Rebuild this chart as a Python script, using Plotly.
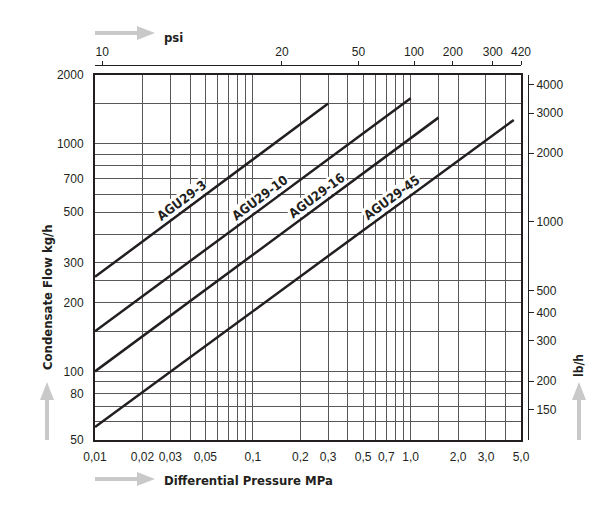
import math

import plotly.graph_objects as go

INK = "#231f20"
GRID = "#5a5757"
ARROW = "#c9c9c9"
NARROW = "Liberation Sans Narrow, Liberation Sans, sans-serif"
BOLD = "DejaVu Sans Condensed, DejaVu Sans, sans-serif"

# размеры и рамка графика в пикселях
W, H = 608, 530
L, R, T, B = 95, 521, 75, 440
PAPER_R, PAPER_T = 528, 65

X_MIN, X_MAX = 0.01, 5.0
Y_MIN, Y_MAX = 50, 2000
LB_PER_KG = 2.20462

# данные линий (МПа -> кг/ч)
SERIES = ["AGU29-3", "AGU29-10", "AGU29-16", "AGU29-45"]
P_START = [0.01, 0.01, 0.01, 0.01]
P_END = [0.3, 1.0, 1.5, 4.5]
FLOW_START = [260, 150, 100, 57]
FLOW_END = [1500, 1580, 1300, 1270]
LABEL_AT = [0.0385, 0.121, 0.276, 0.826]  # где по оси X стоит подпись линии

X_GRID = [0.01, 0.02, 0.03, 0.04, 0.05, 0.06, 0.07, 0.08, 0.09,
          0.1, 0.2, 0.3, 0.4, 0.5, 0.6, 0.7, 0.8, 0.9,
          1.0, 1.5, 2.0, 3.0, 4.0, 5.0]
X_LABELS = {0.01: "0,01", 0.02: "0,02", 0.03: "0,03", 0.05: "0,05", 0.1: "0,1",
            0.2: "0,2", 0.3: "0,3", 0.5: "0,5", 0.7: "0,7", 1.0: "1,0",
            2.0: "2,0", 3.0: "3,0", 5.0: "5,0"}
Y_GRID = [50, 60, 70, 80, 90, 100, 150, 200, 250, 300, 400, 500, 600, 700,
          800, 900, 1000, 1500, 2000]
Y_LABELS = [50, 80, 100, 200, 300, 500, 700, 1000, 2000]
LB_TICKS = [150, 200, 300, 400, 500, 1000, 2000, 3000, 4000]
PSI_LABELS = ["10", "20", "50", "100", "200", "300", "420"]
PSI_AT_MPA = [0.0111, 0.153, 0.467, 1.05, 1.85, 3.31, 5.0]


def to_paper(px, py):
    return (px - L) / (PAPER_R - L), (B - py) / (B - PAPER_T)


def arrow_path(x0, y0, x1, y1, shaft=4.0, head_len=18.0, head_w=14.0):
    d = math.hypot(x1 - x0, y1 - y0)
    ux, uy = (x1 - x0) / d, (y1 - y0) / d
    nx, ny = -uy, ux
    neck = (x1 - ux * head_len, y1 - uy * head_len)
    pts = [
        (x0 + nx * shaft / 2, y0 + ny * shaft / 2),
        (neck[0] + nx * shaft / 2, neck[1] + ny * shaft / 2),
        (neck[0] + nx * head_w / 2, neck[1] + ny * head_w / 2),
        (x1, y1),
        (neck[0] - nx * head_w / 2, neck[1] - ny * head_w / 2),
        (neck[0] - nx * shaft / 2, neck[1] - ny * shaft / 2),
        (x0 - nx * shaft / 2, y0 - ny * shaft / 2),
    ]
    pp = [to_paper(x, y) for x, y in pts]
    return "M " + " L ".join(f"{x:.5f},{y:.5f}" for x, y in pp) + " Z"


def paper_text(text, px, py, angle=0, anchor="center", size=13):
    xp, yp = to_paper(px, py)
    return dict(x=xp, y=yp, xref="paper", yref="paper", text=text, showarrow=False,
                textangle=angle, xanchor=anchor, yanchor="middle",
                font=dict(family=BOLD, size=size, color=INK, weight="bold"))


fig = go.Figure()

for name, p0, p1, f0, f1 in zip(SERIES, P_START, P_END, FLOW_START, FLOW_END):
    fig.add_trace(go.Scatter(x=[p0, p1], y=[f0, f1], mode="lines", name=name,
                             line=dict(color=INK, width=2.5), hoverinfo="skip"))

# невидимые трассы, чтобы появились верхняя (psi) и правая (lb/h) оси
fig.add_trace(go.Scatter(x=[X_MIN, X_MAX], y=[Y_MIN, Y_MAX], xaxis="x2", mode="lines",
                         line=dict(width=0), hoverinfo="skip", showlegend=False))
fig.add_trace(go.Scatter(x=[X_MIN, X_MAX], y=[Y_MIN * LB_PER_KG, Y_MAX * LB_PER_KG],
                         yaxis="y2", mode="lines", line=dict(width=0),
                         hoverinfo="skip", showlegend=False))

# пикселей на декаду — для угла подписей вдоль линий
px_dec_x = (R - L) / math.log10(X_MAX / X_MIN)
px_dec_y = (B - T) / math.log10(Y_MAX / Y_MIN)
annotations = []
for name, p0, p1, f0, f1, at in zip(SERIES, P_START, P_END, FLOW_START, FLOW_END, LABEL_AT):
    k = math.log10(f1 / f0) / math.log10(p1 / p0)
    ly = math.log10(f0) + k * (math.log10(at) - math.log10(p0))
    ang = math.atan(k * px_dec_y / px_dec_x)
    off = 9.5
    annotations.append(dict(
        x=math.log10(at), y=ly, xref="x", yref="y", text=name, showarrow=False,
        textangle=-math.degrees(ang), xshift=-off * math.sin(ang), yshift=off * math.cos(ang),
        xanchor="center", yanchor="middle",
        font=dict(family=BOLD, size=13, color=INK, weight="bold"),
        bgcolor="white", borderpad=0,
    ))

annotations += [
    paper_text("Differential Pressure MPa", 162, 480, anchor="left"),
    paper_text("psi", 162, 37, anchor="left"),
    paper_text("Condensate Flow kg/h", 47, 297, angle=-90),
    paper_text("lb/h", 579, 366, angle=-90, size=12),
]

shapes = [
    dict(type="path", xref="paper", yref="paper", path=arrow_path(*a),
         fillcolor=ARROW, line=dict(width=0), layer="above")
    for a in [(95, 479, 155, 479), (95, 33, 155, 33), (47, 440, 47, 382), (579, 440, 579, 382)]
]

tick_font = dict(family=NARROW, size=12, color=INK)
x_dom = [0, (R - L) / (PAPER_R - L)]
y_dom = [0, (B - T) / (B - PAPER_T)]

fig.update_layout(
    width=W, height=H, autosize=False,
    margin=dict(l=L, r=W - PAPER_R, t=PAPER_T, b=H - B, pad=0),
    paper_bgcolor="white", plot_bgcolor="white",
    showlegend=False, hovermode=False,
    annotations=annotations, shapes=shapes,
    xaxis=dict(
        type="log", range=[math.log10(X_MIN), math.log10(X_MAX)], domain=x_dom,
        tickmode="array", tickvals=X_GRID, ticktext=[X_LABELS.get(v, "") for v in X_GRID],
        ticks="outside", ticklen=5, tickcolor="rgba(0,0,0,0)", tickfont=tick_font,
        tickangle=0, automargin=False,
        showgrid=True, gridcolor=GRID, gridwidth=1,
        showline=True, linecolor=INK, linewidth=2, mirror=True, zeroline=False,
    ),
    yaxis=dict(
        type="log", range=[math.log10(Y_MIN), math.log10(Y_MAX)], domain=y_dom,
        tickmode="array", tickvals=Y_GRID,
        ticktext=[str(v) if v in Y_LABELS else "" for v in Y_GRID],
        ticks="outside", ticklen=7, tickcolor="rgba(0,0,0,0)", tickfont=tick_font,
        automargin=False,
        showgrid=True, gridcolor=GRID, gridwidth=1,
        showline=True, linecolor=INK, linewidth=2, mirror=True, zeroline=False,
    ),
    xaxis2=dict(
        type="log", range=[math.log10(X_MIN), math.log10(X_MAX)],
        overlaying="x", side="top", anchor="free", position=1,
        tickmode="array", tickvals=PSI_AT_MPA, ticktext=PSI_LABELS,
        ticks="outside", ticklen=4, tickcolor=INK, tickwidth=1, tickfont=tick_font,
        tickangle=0, automargin=False,
        showgrid=False, showline=True, linecolor=INK, linewidth=1, zeroline=False,
    ),
    yaxis2=dict(
        type="log", range=[math.log10(Y_MIN * LB_PER_KG), math.log10(Y_MAX * LB_PER_KG)],
        overlaying="y", side="right", anchor="free", position=1,
        tickmode="array", tickvals=LB_TICKS, ticktext=[str(v) for v in LB_TICKS],
        ticks="outside", ticklen=5, tickcolor=INK, tickwidth=1, tickfont=tick_font,
        automargin=False,
        showgrid=False, showline=True, linecolor=INK, linewidth=1, zeroline=False,
    ),
)

# убираем стандартный отступ body, чтобы рисунок встал ровно в окно
fig.write_html("out.html", config={"displayModeBar": False},
               post_script="document.body.style.margin = '0';")
